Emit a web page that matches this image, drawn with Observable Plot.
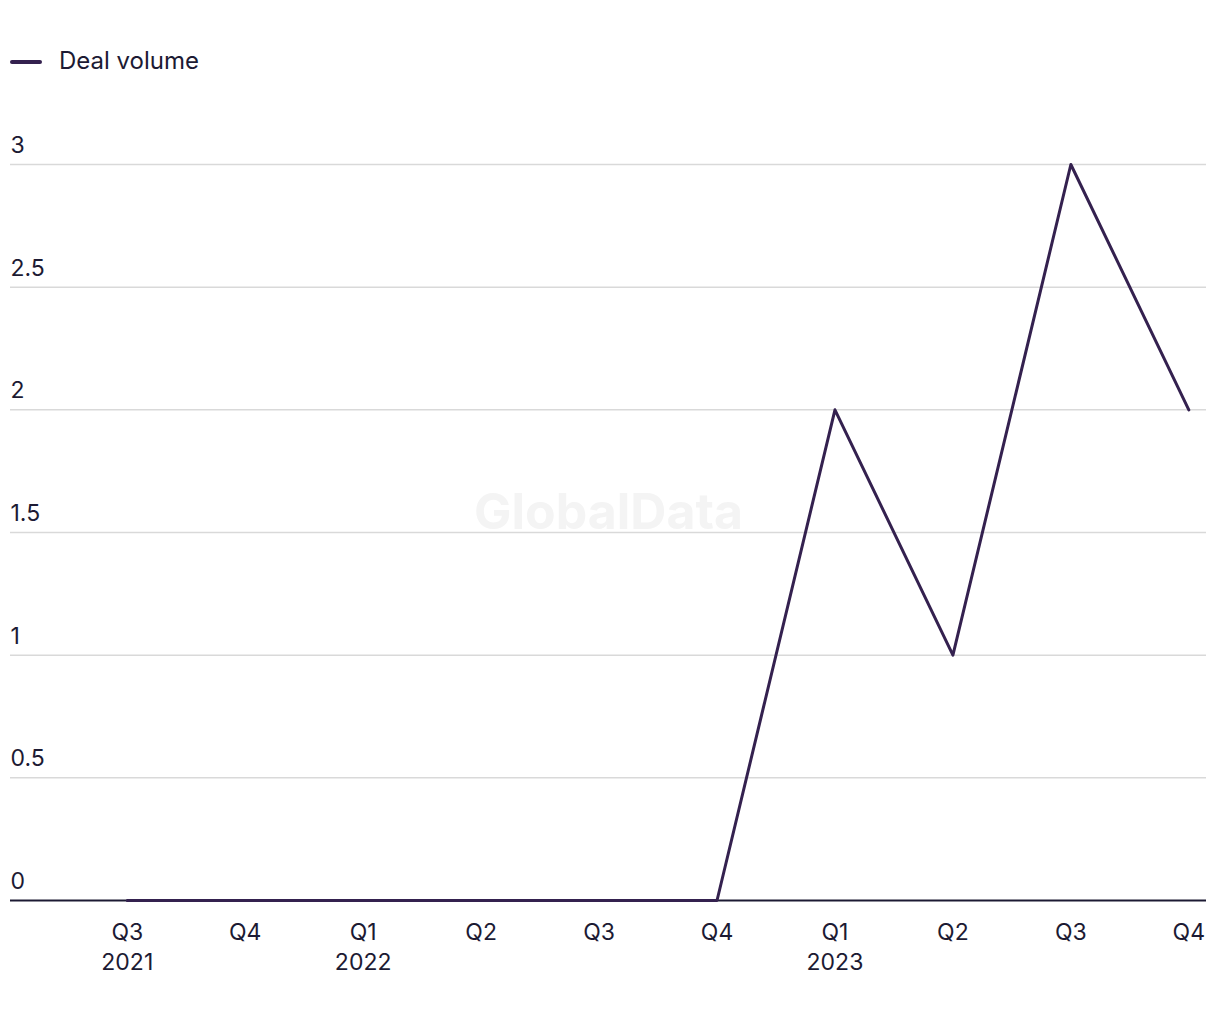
<!DOCTYPE html>
<html>
<head>
<meta charset="utf-8">
<script src="https://cdn.jsdelivr.net/npm/d3@7"></script>
<script src="https://cdn.jsdelivr.net/npm/@observablehq/plot@0.6"></script>
<style>
  html, body { margin: 0; padding: 0; background: #fff; }
  body { width: 1220px; height: 1020px; overflow: hidden; font-family: Inter, "Liberation Sans", sans-serif; }
  #legend { height: 110px; position: relative; }
  #legend .sw { position: absolute; left: 10px; top: 60px; width: 32px; height: 4px; border-radius: 2px; background: #34214f; }
  #legend .lb { position: absolute; left: 59px; top: 46px; font-size: 24px; color: #1c1a33; line-height: 30px; }
</style>
</head>
<body>
<div id="legend"><div class="sw"></div><div class="lb">Deal volume</div></div>
<div id="chart"></div>
<script>
const quarters = ["Q3", "Q4", "Q1", "Q2", "Q3", "Q4", "Q1", "Q2", "Q3", "Q4"];
const years = ["2021", "", "2022", "", "", "", "2023", "", "", ""];
const dealVolume = [0, 0, 0, 0, 0, 0, 2, 1, 3, 2];
const yTicks = [0, 0.5, 1, 1.5, 2, 2.5, 3];
const yTickLabels = ["0", "0.5", "1", "1.5", "2", "2.5", "3"];

const data = quarters.map((q, i) => ({i, q, year: years[i], v: dealVolume[i]}));
const textColor = "#1c1a33";
const lineColor = "#34214f";

const chart = Plot.plot({
  width: 1220,
  height: 910,
  marginLeft: 10,
  marginRight: 14,
  marginTop: 54,
  marginBottom: 120,
  style: {fontFamily: "Inter, 'Liberation Sans', sans-serif", background: "#fff"},
  x: {domain: [-0.99, 9.15], axis: null},
  y: {domain: [0, 3], axis: null},
  marks: [
    Plot.ruleY(yTicks.filter(d => d !== 0), {stroke: "#d9d9d9", strokeWidth: 1.5}),
    Plot.text(["GlobalData"], {frameAnchor: "middle", dy: -20, text: d => d, fontSize: 50, fontWeight: "bold", fill: "#f4f4f4"}),
    Plot.ruleY([0], {stroke: textColor, strokeWidth: 2}),
    Plot.text(yTicks, {y: d => d, frameAnchor: "left", text: (d, i) => yTickLabels[i], textAnchor: "start", dy: -19, fontSize: 23, fill: textColor}),
    Plot.line(data, {x: "i", y: "v", stroke: lineColor, strokeWidth: 3}),
    Plot.text(data, {x: "i", y: () => 0, text: "q", dy: 32, fontSize: 23, fill: textColor}),
    Plot.text(data, {x: "i", y: () => 0, text: "year", dy: 62, fontSize: 23, fill: textColor})
  ]
});
document.getElementById("chart").appendChild(chart);
</script>
</body>
</html>
